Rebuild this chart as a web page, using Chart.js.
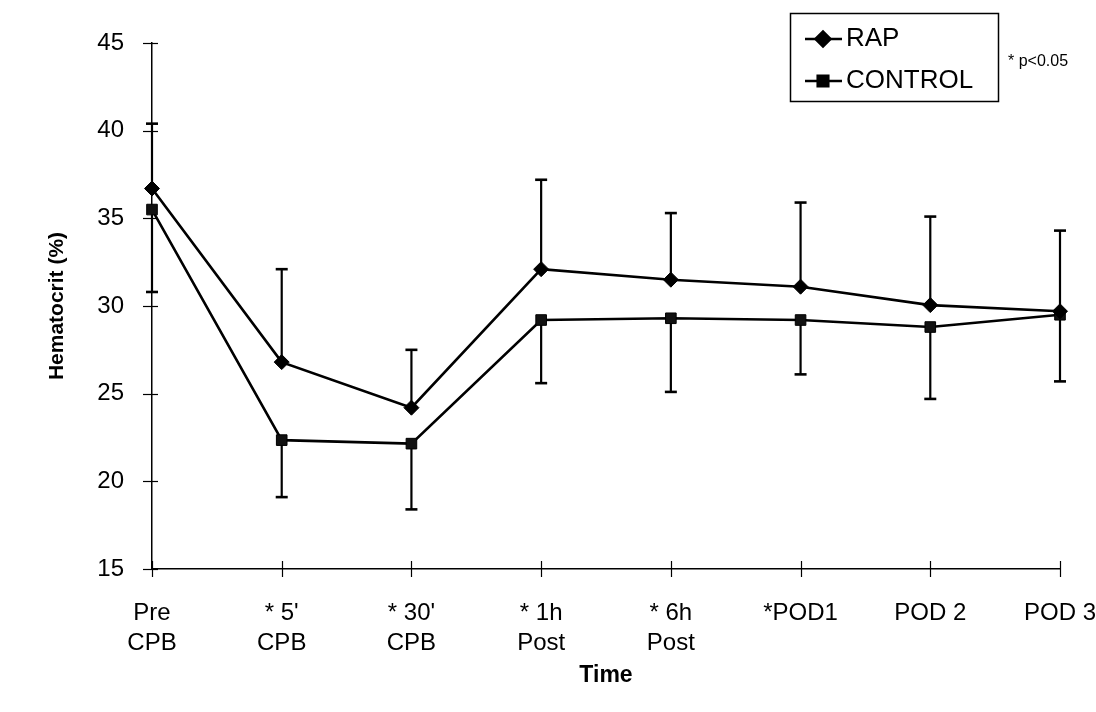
<!DOCTYPE html>
<html>
<head>
<meta charset="utf-8">
<script src="https://cdn.jsdelivr.net/npm/chart.js@4.4.1/dist/chart.umd.min.js"></script>
<style>
  html, body { margin: 0; padding: 0; background: #fff; }
  #caja { width: 1096px; height: 712px; }
</style>
</head>
<body>
<div id="caja"><canvas id="grafico" width="1096" height="712"></canvas></div>
<script>
// categorias del eje x (multilinea)
const momentos = [['Pre', 'CPB'], ["* 5'", 'CPB'], ["* 30'", 'CPB'], ['* 1h', 'Post'], ['* 6h', 'Post'], ['*POD1'], ['POD 2'], ['POD 3']];

// valores medios
const rap = [36.7, 26.8, 24.2, 32.1, 31.5, 31.1, 30.05, 29.7];
const control = [35.5, 22.35, 22.15, 29.2, 29.3, 29.2, 28.8, 29.5];

// extremos de las barras de error (RAP hacia arriba, CONTROL hacia abajo)
const rapSuperior = [40.4, 32.1, 27.5, 37.2, 35.3, 35.9, 35.1, 34.3];
const controlInferior = [30.8, 19.1, 18.4, 25.6, 25.1, 26.1, 24.7, 25.7];

const nota = '* p<0.05';
const fuente = "'Liberation Sans', Arial, sans-serif";

Chart.defaults.font.family = fuente;
Chart.defaults.color = '#000';

// barras de error con remate
const pluginErrores = {
  id: 'barrasError',
  beforeDatasetsDraw: (chart) => {
    const { ctx, scales: { x, y } } = chart;
    ctx.save();
    ctx.strokeStyle = '#000';
    const dibujar = (i, desde, hasta) => {
      const px = x.getPixelForValue(i);
      const y1 = y.getPixelForValue(desde);
      const y2 = y.getPixelForValue(hasta);
      ctx.lineWidth = 2.2;
      ctx.beginPath();
      ctx.moveTo(px, y1);
      ctx.lineTo(px, y2);
      ctx.stroke();
      ctx.lineWidth = 2.6;
      ctx.beginPath();
      ctx.moveTo(px - 6, y2);
      ctx.lineTo(px + 6, y2);
      ctx.stroke();
    };
    rap.forEach((v, i) => dibujar(i, v, rapSuperior[i]));
    control.forEach((v, i) => dibujar(i, v, controlInferior[i]));
    ctx.restore();
  }
};

// marcas de los ejes que cruzan la linea del eje
const pluginMarcas = {
  id: 'marcasEjes',
  afterDraw: (chart) => {
    const { ctx, chartArea: { left, bottom }, scales: { x, y } } = chart;
    ctx.save();
    ctx.strokeStyle = '#000';
    ctx.lineWidth = 1.2;
    y.ticks.forEach((t, i) => {
      const py = Math.round(y.getPixelForTick(i)) + 0.5;
      ctx.beginPath();
      ctx.moveTo(left - 9, py);
      ctx.lineTo(left + 6, py);
      ctx.stroke();
    });
    x.ticks.forEach((t, i) => {
      const px = Math.round(x.getPixelForTick(i)) + 0.5;
      ctx.beginPath();
      ctx.moveTo(px, bottom - 8);
      ctx.lineTo(px, bottom + 8);
      ctx.stroke();
    });
    ctx.restore();
  }
};

// leyenda en recuadro y nota de significacion
const pluginLeyenda = {
  id: 'leyendaCaja',
  afterDraw: (chart) => {
    const { ctx } = chart;
    ctx.save();
    ctx.strokeStyle = '#000';
    ctx.lineWidth = 1.5;
    ctx.strokeRect(790.5, 13.5, 208, 88);
    chart.data.datasets.forEach((ds, i) => {
      const yy = i === 0 ? 39 : 81;
      ctx.lineWidth = 2.5;
      ctx.beginPath();
      ctx.moveTo(805, yy);
      ctx.lineTo(842, yy);
      ctx.stroke();
      Chart.helpers.drawPoint(ctx, {
        pointStyle: ds.pointStyle,
        radius: ds.pointRadius,
        borderWidth: 1
      }, 823, yy);
      ctx.fill();
      ctx.fillStyle = '#000';
      ctx.font = '26px ' + fuente;
      ctx.textAlign = 'left';
      ctx.textBaseline = 'middle';
      ctx.fillText(ds.label, 846, yy);
    });
    ctx.font = '16px ' + fuente;
    ctx.textBaseline = 'middle';
    ctx.fillText(nota, 1008, 62);
    ctx.restore();
  }
};

const grafico = new Chart(document.getElementById('grafico').getContext('2d'), {
  type: 'line',
  data: {
    labels: momentos,
    datasets: [
      {
        label: 'RAP',
        data: rap,
        borderColor: '#000',
        backgroundColor: '#000',
        borderWidth: 2.6,
        pointStyle: 'rectRot',
        pointRadius: 7.5,
        pointBorderWidth: 1,
        tension: 0
      },
      {
        label: 'CONTROL',
        data: control,
        borderColor: '#000',
        backgroundColor: '#111',
        borderWidth: 2.6,
        pointStyle: 'rect',
        pointRadius: 7.5,
        pointBorderWidth: 1,
        tension: 0
      }
    ]
  },
  plugins: [pluginErrores, pluginMarcas, pluginLeyenda],
  options: {
    responsive: false,
    animation: false,
    layout: { padding: { top: 43, right: 36, bottom: 0, left: 0 } },
    plugins: {
      legend: { display: false },
      tooltip: { enabled: false }
    },
    scales: {
      x: {
        type: 'category',
        offset: false,
        grid: { display: false },
        border: { display: true, color: '#000', width: 1.5 },
        ticks: {
          padding: 22,
          maxRotation: 0,
          autoSkip: false,
          font: { size: 24, lineHeight: 1.22 },
          color: '#000'
        },
        title: {
          display: true,
          text: 'Time',
          font: { size: 23, weight: 'bold' },
          padding: { top: 0, bottom: 23 },
          color: '#000'
        },
        afterFit: (s) => { s.height = 143; s.paddingRight = 0; s.paddingLeft = 0; }
      },
      y: {
        min: 15,
        max: 45,
        grid: { display: false },
        border: { display: true, color: '#000', width: 1.5 },
        ticks: {
          stepSize: 5,
          padding: 20,
          font: { size: 24 },
          color: '#000'
        },
        title: {
          display: true,
          text: 'Hematocrit (%)',
          font: { size: 21, weight: 'bold' },
          padding: { top: 45, bottom: 0 },
          color: '#000'
        },
        afterFit: (s) => { s.width = 152; }
      }
    }
  }
});
</script>
</body>
</html>
